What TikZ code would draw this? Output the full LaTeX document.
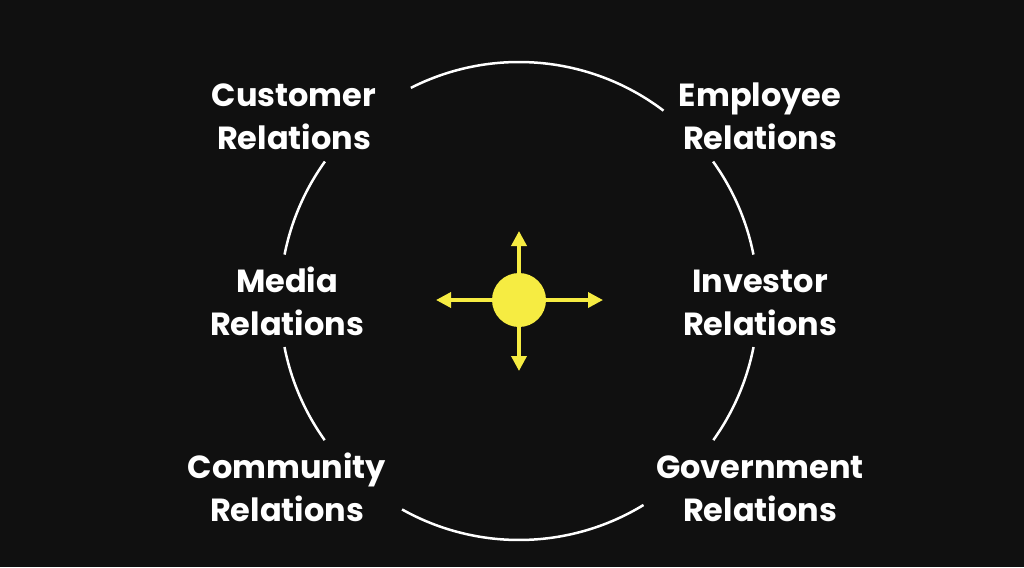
\documentclass[tikz,border=0pt]{standalone}
\usepackage{fontspec}
\setmainfont{Poppins}
\usetikzlibrary{arrows.meta}
\definecolor{bg}{RGB}{16,16,16}
\definecolor{yel}{RGB}{246,236,66}
\begin{document}
\begin{tikzpicture}[x=1pt,y=-1pt,
  lbl/.style={text=white, font=\fontsize{32}{43}\selectfont\bfseries, align=center, anchor=base, inner sep=0pt},
  ring/.style={white, line width=2.5pt},
  spoke/.style={yel, line width=3.5pt, -{Triangle[width=15pt,length=15pt]}}]
\fill[bg] (0,0) rectangle (1024,567);
\useasboundingbox (0,0) rectangle (1024,567);
% ring segments
\coordinate (c) at (519,301);
\draw[ring] (c) ++(-116.9:239) arc[start angle=-116.9, end angle=-52.8, radius=239];
\draw[ring] (c) ++(-144.3:239) arc[start angle=-144.3, end angle=-168.8, radius=239];
\draw[ring] (c) ++(168.9:239) arc[start angle=168.9, end angle=144.4, radius=239];
\draw[ring] (c) ++(119.3:239) arc[start angle=119.3, end angle=58.6, radius=239];
\draw[ring] (c) ++(35.6:239) arc[start angle=35.6, end angle=11.1, radius=239];
\draw[ring] (c) ++(-11.2:239) arc[start angle=-11.2, end angle=-35.7, radius=239];
% labels (anchor = baseline of the second line)
\node[lbl] (cust) at (294,149) {Customer\\Relations};
\node[lbl] (empl) at (760,149) {Employee\\Relations};
\node[lbl] (medi) at (287,335) {Media\\Relations};
\node[lbl] (inve) at (760,335) {Investor\\Relations};
\node[lbl] (comm) at (287,521) {Community\\Relations};
\node[lbl] (gove) at (760,521) {Government\\Relations};
% hub
\coordinate (tN) at (519,231);
\coordinate (tS) at (519,371);
\coordinate (tW) at (436,300);
\coordinate (tE) at (603,300);
\node[circle, fill=yel, minimum size=54pt, inner sep=0pt] (hub) at (519,300) {};
\draw[spoke] (hub.north) -- (tN);
\draw[spoke] (hub.south) -- (tS);
\draw[spoke] (hub.west) -- (tW);
\draw[spoke] (hub.east) -- (tE);
\end{tikzpicture}
\end{document}
